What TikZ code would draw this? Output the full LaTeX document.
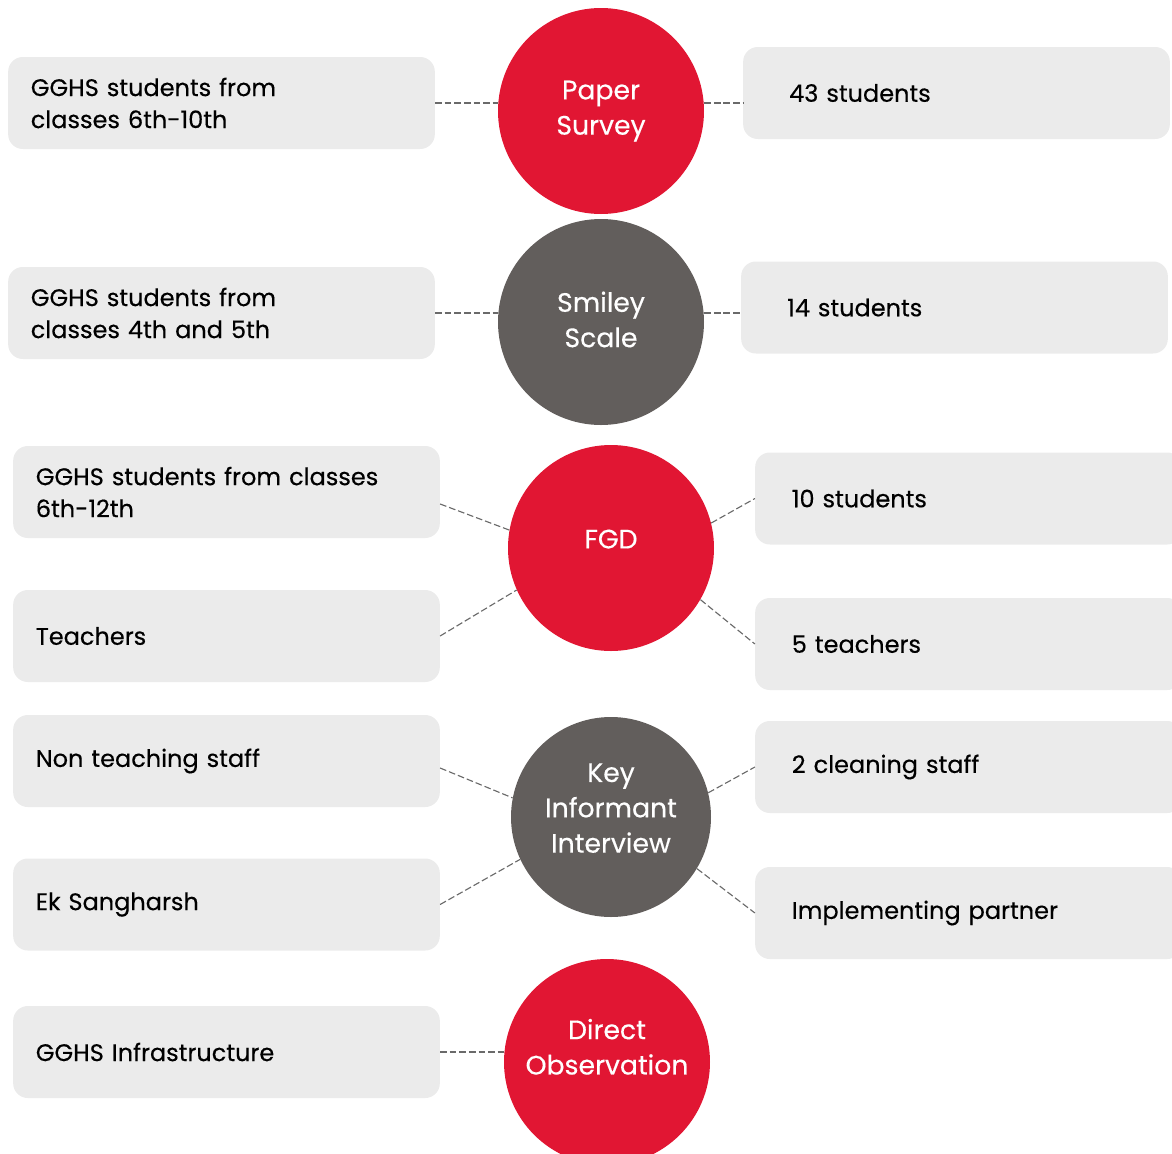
\documentclass[tikz,border=0pt]{standalone}
\usepackage{fontspec}
\setmainfont{Poppins}[FakeBold=0.35]
\usepackage{tikz}
\usetikzlibrary{positioning}

\definecolor{methodred}{HTML}{E11633}
\definecolor{methodgrey}{HTML}{625E5C}
\definecolor{boxgrey}{HTML}{EBEBEB}
\definecolor{linkgrey}{HTML}{6A6A6A}

\begin{document}
\begin{tikzpicture}[x=0.75pt, y=-0.75pt,
		box/.style={fill=boxgrey, rounded corners=11pt, minimum width=320pt, minimum height=69pt,
			inner xsep=17pt, text width=286pt, align=left, font=\fontsize{18}{24}\selectfont},
		rbox/.style={box, inner xsep=34.5pt, text width=251pt},
		rboxb/.style={box, inner xsep=27.5pt, text width=265pt},
		method/.style={circle, minimum size=154.5pt, text=white, align=center,
			font=\fontsize{20}{26.5}\selectfont},
		link/.style={draw=linkgrey, line width=0.85pt, dash pattern=on 5pt off 2.2pt}]
			\useasboundingbox (0,0) rectangle (1172,1154);

			% left column
			\node[box] (l1) at (221.5,103) {GGHS students from\\classes 6th-10th};
			\node[box] (l2) at (221.5,313) {GGHS students from\\classes 4th and 5th};
			\node[box] (l3) at (226.5,492) {GGHS students from classes\\6th-12th};
			\node[box] (l4) at (226.5,636) {Teachers};
			\node[box] (l5) at (226.5,761) {Non teaching staff};
			\node[box] (l6) at (226.5,904.5) {Ek Sangharsh};
			\node[box] (l7) at (226.5,1052) {GGHS Infrastructure};

			% methods
			\node[method, fill=methodred, text depth=5pt] (c1) at (601,111) {Paper\\Survey};
			\node[method, fill=methodgrey, text depth=4pt] (c2) at (601,322) {Smiley\\Scale};
			\node[method, fill=methodred, text depth=13.5pt] (c3) at (611,548) {FGD};
			\node[method, fill=methodgrey, minimum size=150pt, text depth=13.5pt] (c4) at (611,817) {Key\\Informant\\Interview};
			\node[method, fill=methodred, text depth=23pt] (c5) at (607,1062) {Direct\\Observation};

			% right column
			\node[rbox] (r1) at (956.5,93) {43 students};
			\node[rbox] (r2) at (954.5,307.5) {14 students};
			\node[rboxb] (r3) at (968.5,498.5) {10 students};
			\node[rboxb] (r4) at (968.5,644) {5 teachers};
			\node[rboxb] (r5) at (968.5,767) {2 cleaning staff};
			\node[rboxb] (r6) at (968.5,913) {Implementing partner};

			% links
			\path[link] (l1.east) -- (l1.east -| c1.west);
			\path[link] (l1.east -| c1.east) -- (l1.east -| r1.west);
			\path[link] (l2.east) -- (l2.east -| c2.west);
			\path[link] (l2.east -| c2.east) -- (l2.east -| r2.west);
			\path[link] ([yshift=-9pt]l3.east) -- (c3.170);
			\path[link] (l4.east) -- (c3.204);
			\path[link] (c3.14) -- (r3.west);
			\path[link] (c3.-30) -- (r4.west);
			\path[link] ([yshift=-5.25pt]l5.east) -- (c4.169);
			\path[link] (l6.east) -- (c4.205);
			\path[link] (c4.14) -- (r5.west);
			\path[link] (c4.-31) -- (r6.west);
			\path[link] (l7.east) -- (l7.east -| c5.west);
        \end{tikzpicture}
\end{document}
